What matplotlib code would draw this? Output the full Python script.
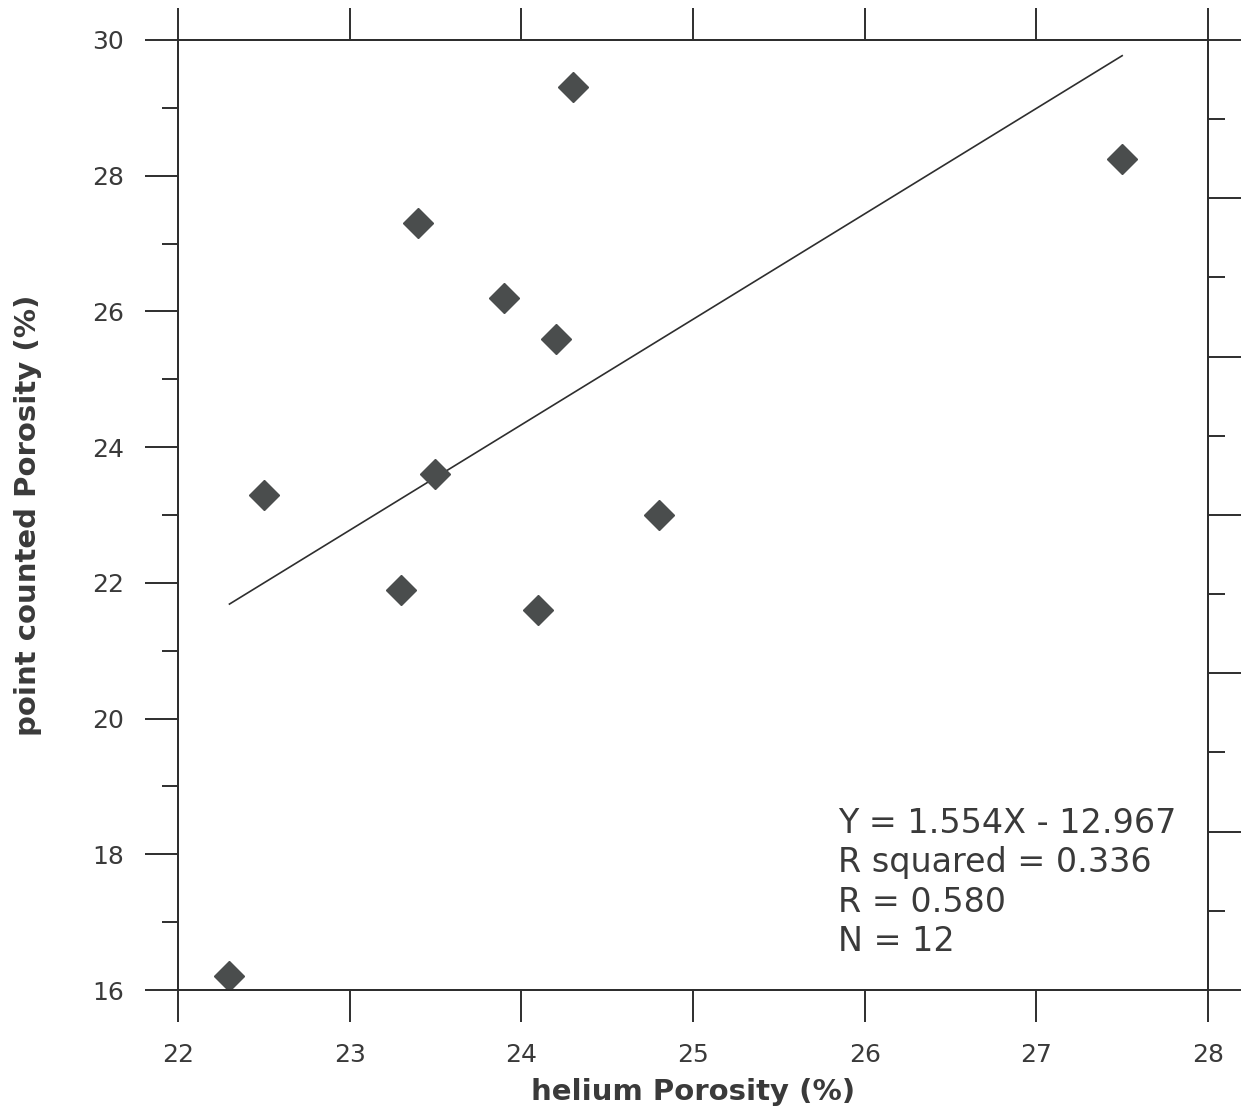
import matplotlib.pyplot as plt
import numpy as np
from matplotlib.ticker import MultipleLocator, NullFormatter

# readings
helium = [22.3, 22.5, 23.3, 23.4, 23.5, 23.9, 24.1, 24.2, 24.3, 24.8, 27.5]
point_counted = [16.2, 23.3, 21.9, 27.3, 23.6, 26.2, 21.6, 25.6, 29.3, 23.0, 28.25]

slope, intercept = 1.554, -12.967
fit_x = np.array([22.3, 27.5])
stats_lines = ["Y = 1.554X - 12.967", "R squared = 0.336", "R = 0.580", "N = 12"]

ink = '#2e2e2e'
txt = '#3a3a3a'

fig = plt.figure(figsize=(12.41, 11.13), dpi=100)
ax = fig.add_axes([0.1434, 0.1105, 0.83, 0.8536])

ax.plot(fit_x, slope * fit_x + intercept, color=ink, lw=1.2, zorder=2)
ax.plot(helium, point_counted, 'D', ms=15.5, color='#4a4d4d', mec='#4a4d4d', zorder=3)

ax.set_xlim(22, 28)
ax.set_ylim(16, 30)
ax.xaxis.set_major_locator(MultipleLocator(1))
ax.yaxis.set_major_locator(MultipleLocator(2))
ax.yaxis.set_minor_locator(MultipleLocator(1))
ax.tick_params(axis='x', which='major', direction='out', length=23, width=1.4,
               color=ink, top=True, labeltop=False, labelsize=18, labelcolor=txt, pad=15)
ax.tick_params(axis='y', which='major', direction='out', length=24, width=1.4,
               color=ink, right=False, labelsize=18, labelcolor=txt, pad=15)
ax.tick_params(axis='y', which='minor', direction='out', length=11.5, width=1.4,
               color=ink, right=False)
for s in ax.spines.values():
    s.set_linewidth(1.4)
    s.set_color(ink)

# right hand scale, unlabelled
ax2 = ax.twinx()
ax2.set_ylim(0, 12)
ax2.yaxis.set_major_locator(MultipleLocator(2))
ax2.yaxis.set_minor_locator(MultipleLocator(1))
ax2.yaxis.set_major_formatter(NullFormatter())
ax2.tick_params(axis='y', which='major', direction='out', length=26, width=1.4, color=ink)
ax2.tick_params(axis='y', which='minor', direction='out', length=12, width=1.4, color=ink)
for s in ax2.spines.values():
    s.set_linewidth(1.4)
    s.set_color(ink)

ax.set_xlabel('helium Porosity (%)', fontsize=21, fontweight='bold', color=txt, labelpad=8)
ax.set_ylabel('point counted Porosity (%)', fontsize=21, fontweight='bold', color=txt, labelpad=36)

for i, line in enumerate(stats_lines):
    ax.text(0.6408, 0.1653 - i * 0.0414, line, transform=ax.transAxes, fontsize=24,
            color=txt, va='baseline', ha='left')

fig.savefig('out.png', dpi=100)
